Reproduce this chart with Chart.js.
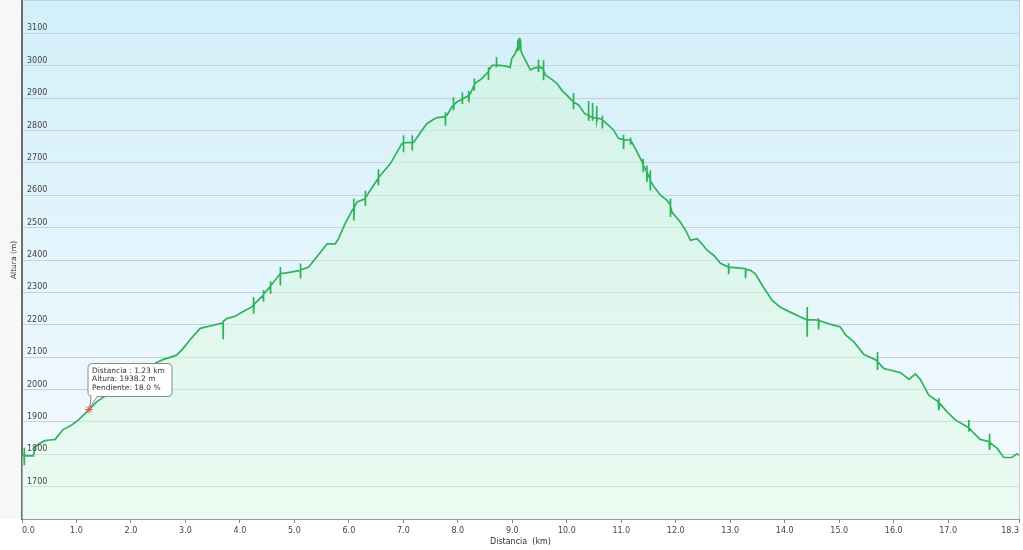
<!DOCTYPE html>
<html lang="es">
<head>
<meta charset="UTF-8">
<title>Perfil de altura</title>
<script src="https://cdn.jsdelivr.net/npm/chart.js"></script>
<style>
  html, body { margin: 0; padding: 0; background: #fff; overflow: hidden; }
</style>
</head>
<body>
<canvas id="perfil" width="1023" height="550"></canvas>
<script>
// Datos del perfil: distancia en km, altura en m
const distancias = [
  0.00, 0.04, 0.04, 0.04, 0.05, 0.21, 0.24, 0.33, 0.42, 0.51, 0.61, 0.67, 0.76, 0.88, 1.00, 1.10, 1.23, 1.37,
  1.60, 1.85, 2.10, 2.35, 2.50, 2.60, 2.84, 2.96, 3.09, 3.27, 3.45, 3.69, 3.69, 3.69, 3.70, 3.76, 3.91, 4.06,
  4.22, 4.25, 4.25, 4.25, 4.26, 4.43, 4.43, 4.43, 4.44, 4.55, 4.56, 4.56, 4.56, 4.57, 4.74, 4.74, 4.74, 4.75,
  4.86, 5.11, 5.11, 5.11, 5.12, 5.26, 5.41, 5.60, 5.75, 5.81, 5.93, 6.06, 6.09, 6.09, 6.09, 6.10, 6.15, 6.30,
  6.30, 6.30, 6.31, 6.45, 6.54, 6.54, 6.54, 6.55, 6.76, 6.97, 7.00, 7.00, 7.00, 7.01, 7.16, 7.16, 7.16, 7.17,
  7.19, 7.31, 7.43, 7.55, 7.62, 7.74, 7.77, 7.77, 7.77, 7.78, 7.80, 7.89, 7.92, 7.92, 7.92, 7.93, 7.98, 8.08,
  8.08, 8.08, 8.09, 8.20, 8.20, 8.20, 8.21, 8.23, 8.30, 8.30, 8.30, 8.31, 8.44, 8.53, 8.56, 8.56, 8.56, 8.57,
  8.63, 8.71, 8.71, 8.71, 8.72, 8.78, 8.90, 8.96, 8.99, 9.05, 9.09, 9.10, 9.10, 9.11, 9.12, 9.13, 9.14, 9.15,
  9.16, 9.18, 9.27, 9.33, 9.42, 9.48, 9.48, 9.48, 9.49, 9.51, 9.57, 9.57, 9.57, 9.58, 9.61, 9.73, 9.82, 9.91,
  10.00, 10.09, 10.12, 10.12, 10.12, 10.13, 10.22, 10.33, 10.40, 10.40, 10.40, 10.41, 10.47, 10.47, 10.47, 10.48, 10.49, 10.55,
  10.55, 10.55, 10.56, 10.65, 10.65, 10.65, 10.66, 10.77, 10.86, 10.95, 11.04, 11.04, 11.04, 11.05, 11.17, 11.17, 11.17, 11.18,
  11.29, 11.38, 11.40, 11.40, 11.40, 11.41, 11.47, 11.47, 11.47, 11.48, 11.53, 11.53, 11.53, 11.54, 11.60, 11.72, 11.84, 11.90,
  11.90, 11.90, 11.91, 11.93, 12.08, 12.18, 12.27, 12.39, 12.48, 12.57, 12.70, 12.82, 12.97, 12.97, 12.97, 12.98, 13.19, 13.28,
  13.28, 13.28, 13.29, 13.37, 13.46, 13.61, 13.77, 13.92, 14.10, 14.29, 14.41, 14.41, 14.41, 14.42, 14.56, 14.62, 14.62, 14.62,
  14.63, 14.84, 15.02, 15.12, 15.27, 15.45, 15.67, 15.70, 15.70, 15.70, 15.71, 15.82, 16.13, 16.28, 16.40, 16.49, 16.64, 16.82,
  16.83, 16.83, 16.83, 16.84, 16.98, 17.13, 17.35, 17.38, 17.38, 17.38, 17.39, 17.47, 17.59, 17.75, 17.76, 17.76, 17.76, 17.77,
  17.90, 18.02, 18.17, 18.26, 18.30
];
const alturas = [
  1797, 1795, 1820, 1766, 1795, 1795, 1823, 1834, 1842, 1844, 1846, 1859, 1877, 1887, 1901, 1916, 1938, 1962,
  1988, 2015, 2045, 2072, 2086, 2093, 2106, 2127, 2155, 2189, 2196, 2206, 2213, 2155, 2210, 2219, 2226, 2241,
  2255, 2262, 2286, 2234, 2264, 2291, 2307, 2271, 2294, 2317, 2319, 2334, 2296, 2320, 2358, 2378, 2321, 2358,
  2360, 2368, 2389, 2343, 2369, 2378, 2409, 2450, 2450, 2466, 2512, 2553, 2560, 2590, 2522, 2563, 2579, 2589,
  2614, 2567, 2592, 2630, 2652, 2680, 2631, 2655, 2697, 2759, 2762, 2785, 2733, 2762, 2763, 2785, 2738, 2763,
  2764, 2793, 2821, 2834, 2840, 2842, 2845, 2856, 2815, 2846, 2847, 2873, 2878, 2903, 2862, 2880, 2888, 2896,
  2918, 2882, 2897, 2908, 2923, 2887, 2911, 2914, 2940, 2961, 2923, 2944, 2960, 2976, 2982, 2995, 2956, 2985,
  3001, 3001, 3027, 2999, 3001, 3001, 2998, 2994, 3022, 3037, 3055, 3078, 3045, 3082, 3048, 3086, 3052, 3079,
  3045, 3037, 3007, 2987, 2994, 2995, 3019, 2981, 2995, 2996, 2990, 3017, 2955, 2985, 2971, 2957, 2945, 2924,
  2909, 2893, 2890, 2916, 2865, 2888, 2878, 2852, 2846, 2891, 2830, 2845, 2841, 2885, 2830, 2840, 2840, 2838,
  2876, 2830, 2838, 2835, 2846, 2806, 2832, 2816, 2801, 2775, 2772, 2787, 2743, 2772, 2770, 2778, 2756, 2768,
  2734, 2703, 2695, 2713, 2671, 2693, 2672, 2692, 2641, 2668, 2650, 2677, 2615, 2645, 2626, 2600, 2584, 2570,
  2590, 2533, 2565, 2548, 2518, 2492, 2461, 2466, 2450, 2431, 2414, 2390, 2378, 2390, 2356, 2378, 2375, 2373,
  2375, 2344, 2372, 2368, 2357, 2316, 2275, 2254, 2239, 2224, 2215, 2255, 2163, 2215, 2215, 2214, 2220, 2185,
  2213, 2201, 2193, 2168, 2147, 2109, 2091, 2088, 2116, 2060, 2086, 2065, 2052, 2031, 2048, 2031, 1983, 1962,
  1960, 1974, 1936, 1958, 1931, 1906, 1885, 1882, 1906, 1870, 1880, 1865, 1846, 1839, 1838, 1863, 1813, 1836,
  1818, 1790, 1790, 1801, 1798
];
const ticksDistancia = [0, 1, 2, 3, 4, 5, 6, 7, 8, 9, 10, 11, 12, 13, 14, 15, 16, 17, 18.3];
const ticksAltura = [1700, 1800, 1900, 2000, 2100, 2200, 2300, 2400, 2500, 2600, 2700, 2800, 2900, 3000, 3100];

// Punto marcado con su etiqueta
const puntoDistancia = 1.23;
const puntoAltura = 1938.2;
const puntoPendiente = 18.0;

const fuente = "'DejaVu Sans', Verdana, sans-serif";

// Fondo: franja izquierda gris y degradado azul en la zona del gráfico
const fondo = {
  id: 'fondo',
  beforeDraw(chart) {
    const { ctx, chartArea: a } = chart;
    ctx.save();
    ctx.fillStyle = '#ffffff';
    ctx.fillRect(0, 0, chart.width, chart.height);
    ctx.fillStyle = '#f7f7f7';
    ctx.fillRect(0, 0, a.left, a.bottom);
    const g = ctx.createLinearGradient(0, 0, 0, a.bottom);
    g.addColorStop(0, '#d2eff9');
    g.addColorStop(1, '#f6fbff');
    ctx.fillStyle = g;
    ctx.fillRect(a.left, 0, a.right - a.left, a.bottom);
    ctx.strokeStyle = '#c6d2d8';
    ctx.lineWidth = 1;
    ctx.beginPath();
    ctx.moveTo(a.left, 0.5);
    ctx.lineTo(a.right, 0.5);
    ctx.moveTo(a.right + 0.5, 0);
    ctx.lineTo(a.right + 0.5, a.bottom);
    ctx.stroke();
    ctx.restore();
  }
};

// Marcador rojo y cuadro de información del punto
const etiqueta = {
  id: 'etiqueta',
  afterDraw(chart) {
    const { ctx, scales: { x, y } } = chart;
    const px = x.getPixelForValue(puntoDistancia);
    const py = y.getPixelForValue(puntoAltura);
    ctx.save();

    const bx = px - 1, by = py - 46, bw = 84, bh = 33, r = 4;
    ctx.beginPath();
    ctx.moveTo(bx + r, by);
    ctx.lineTo(bx + bw - r, by);
    ctx.quadraticCurveTo(bx + bw, by, bx + bw, by + r);
    ctx.lineTo(bx + bw, by + bh - r);
    ctx.quadraticCurveTo(bx + bw, by + bh, bx + bw - r, by + bh);
    ctx.lineTo(bx + 9, by + bh);
    ctx.lineTo(px + 1, py - 2);
    ctx.lineTo(bx + 3, by + bh - 1);
    ctx.quadraticCurveTo(bx, by + bh, bx, by + bh - r);
    ctx.lineTo(bx, by + r);
    ctx.quadraticCurveTo(bx, by, bx + r, by);
    ctx.closePath();
    ctx.fillStyle = 'rgba(255,255,255,0.95)';
    ctx.fill();
    ctx.strokeStyle = '#8a8a8a';
    ctx.lineWidth = 1;
    ctx.stroke();

    ctx.fillStyle = '#333';
    ctx.font = '7.5px ' + fuente;
    ctx.textBaseline = 'middle';
    ctx.textAlign = 'left';
    ctx.fillText('Distancia : ' + puntoDistancia.toFixed(2) + ' km', bx + 4, by + 7.5);
    ctx.fillText('Altura: ' + puntoAltura.toFixed(1) + ' m', bx + 4, by + 16);
    ctx.fillText('Pendiente: ' + puntoPendiente.toFixed(1) + ' %', bx + 4, by + 24.5);

    ctx.strokeStyle = 'rgba(255,60,60,0.85)';
    ctx.lineWidth = 1;
    ctx.beginPath();
    ctx.moveTo(px - 4, py); ctx.lineTo(px + 4, py);
    ctx.moveTo(px, py - 4); ctx.lineTo(px, py + 4);
    ctx.moveTo(px - 3, py - 3); ctx.lineTo(px + 3, py + 3);
    ctx.moveTo(px - 3, py + 3); ctx.lineTo(px + 3, py - 3);
    ctx.stroke();
    ctx.restore();
  }
};

new Chart(document.getElementById('perfil'), {
  type: 'line',
  data: {
    datasets: [{
      data: distancias.map((d, i) => ({ x: d, y: alturas[i] })),
      borderColor: '#2fb35a',
      borderWidth: 1.7,
      pointRadius: 0,
      tension: 0,
      fill: 'start',
      backgroundColor(c) {
        const a = c.chart.chartArea;
        if (!a) return 'rgba(0,0,0,0)';
        const g = c.chart.ctx.createLinearGradient(0, a.top, 0, a.bottom);
        g.addColorStop(0, 'rgba(205,245,215,0.5)');
        g.addColorStop(1, 'rgba(222,250,226,0.45)');
        return g;
      }
    }]
  },
  options: {
    responsive: false,
    animation: false,
    devicePixelRatio: 1,
    events: [],
    layout: { padding: { top: 1, right: 4, left: 0, bottom: 0 } },
    plugins: { legend: { display: false }, tooltip: { enabled: false } },
    scales: {
      x: {
        type: 'linear',
        min: 0,
        max: 18.3,
        afterBuildTicks(s) { s.ticks = ticksDistancia.map(v => ({ value: v })); },
        afterFit(s) { s.height = 31; s.paddingLeft = 0; s.paddingRight = 0; },
        ticks: {
          align: 'inner', padding: 3, color: '#444', autoSkip: false, maxRotation: 0,
          font: { family: fuente, size: 8 },
          callback: v => Number(v).toFixed(1)
        },
        grid: { drawOnChartArea: false, drawTicks: true, tickLength: 4, color: '#8a8a8a' },
        border: { color: '#9a9a9a', width: 1 },
        title: {
          display: true, text: 'Distancia  (km)', color: '#333',
          font: { family: fuente, size: 8 }, padding: { top: 0, bottom: 3 }
        }
      },
      y: {
        type: 'linear',
        min: 1600,
        max: 3200,
        afterBuildTicks(s) { s.ticks = ticksAltura.map(v => ({ value: v })); },
        afterFit(s) { s.width = 22; s.paddingTop = 0; s.paddingBottom = 0; },
        ticks: {
          z: 1, mirror: true, padding: 5, labelOffset: -5, color: '#444',
          font: { family: fuente, size: 8 },
          callback: v => String(v)
        },
        grid: { color: '#c6d1d7', drawTicks: false, lineWidth: 1 },
        border: { color: '#6e6e6e', width: 2 },
        title: {
          display: true, text: 'Altura (m)', color: '#333',
          font: { family: fuente, size: 7.5 }, padding: { top: 10, bottom: 0 }
        }
      }
    }
  },
  plugins: [fondo, etiqueta]
});
</script>
</body>
</html>
